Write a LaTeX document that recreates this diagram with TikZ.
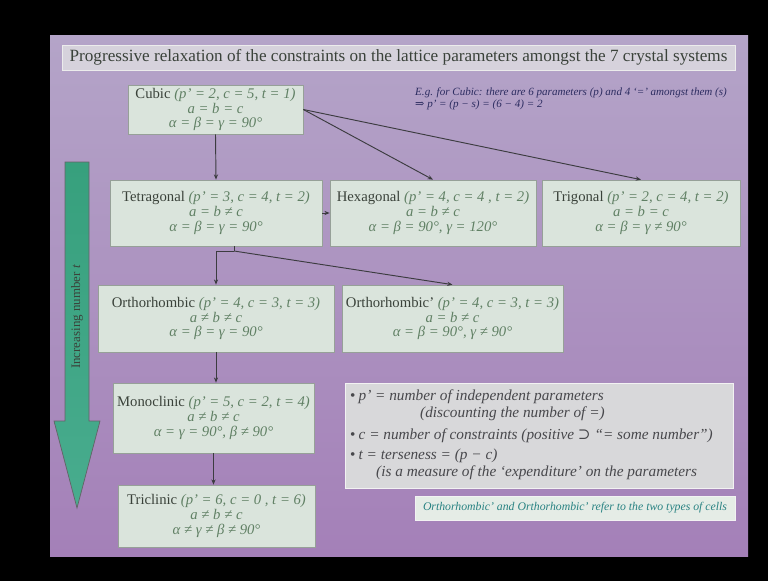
\documentclass[tikz,border=0pt]{standalone}
\usepackage{fontspec}
\setmainfont{Liberation Serif}
\newfontfamily\symfont{DejaVu Serif}
\usetikzlibrary{arrows.meta,calc}

\definecolor{slidetop}{RGB}{180,164,200}
\definecolor{slidebot}{RGB}{164,128,184}
\definecolor{boxfill}{RGB}{218,228,220}
\definecolor{boxline}{RGB}{150,160,152}
\definecolor{titlefill}{RGB}{214,210,220}
\definecolor{nameC}{RGB}{58,66,58}
\definecolor{mathC}{RGB}{96,128,100}
\definecolor{linkC}{RGB}{60,60,64}
\definecolor{legfill}{RGB}{216,216,218}
\definecolor{legtext}{RGB}{72,72,76}
\definecolor{noteC}{RGB}{44,44,96}
\definecolor{cellC}{RGB}{40,130,130}
\definecolor{arrtop}{RGB}{55,160,125}
\definecolor{arrmid}{RGB}{198,216,208}
\definecolor{arrbot}{RGB}{72,172,142}

\newcommand\nm[1]{{\upshape\color{nameC}#1}}
\newcommand\nq{≠}
\newcommand\impl{{\symfont ⊃}}
\newcommand\bul{{\upshape•}\hspace{0.2em}}

\begin{document}
\begin{tikzpicture}[x=0.85pt,y=-0.85pt,
  sz/.style 2 args={minimum width=#1*0.85pt, minimum height=#2*0.85pt},
  sysbox/.style={draw=boxline, fill=boxfill, line width=0.6pt, inner sep=0pt,
    align=center, text=mathC, font=\fontsize{12.5}{12.6}\selectfont\itshape},
  link/.style={draw=linkC, line width=0.8pt, -{Stealth[length=4.5pt,width=3.6pt]}},
  plain/.style={draw=linkC, line width=0.8pt},
  ]
% frame and slide
\fill[black] (0,0) rectangle (768,581);
\useasboundingbox (0,0) rectangle (768,581);
\shade[top color=slidetop, bottom color=slidebot] (50,35) rectangle (748,556);

% heading
\node[draw=white!85!gray, fill=titlefill, line width=0.8pt, inner sep=0pt, sz={673}{25},
  text=nameC, font=\fontsize{14.6}{16}\selectfont] (title) at (398.5,57.5)
  {Progressive relaxation of the constraints on the lattice parameters amongst the 7 crystal systems};

% worked example
\node[anchor=west, inner sep=0pt, text=noteC, font=\fontsize{9.4}{10}\selectfont\itshape] (eg1) at (415,93)
  {E.g. for Cubic: there are 6 parameters (p) and 4 `=' amongst them (s)};
\node[anchor=west, inner sep=0pt, text=noteC, font=\fontsize{9.4}{10}\selectfont\itshape] (eg2) at (415,105)
  {{\symfont ⇒} p' = (p − s) = (6 − 4) = 2};

% crystal systems
\node[sysbox, sz={175}{49}] (cubic) at (215.5,109.5)
  {\nm{Cubic} (p' = 2, c = 5, t = 1)\\ a = b = c\\ α = β = γ = 90°};
\node[sysbox, sz={212}{66}] (tet) at (216,213)
  {\nm{Tetragonal} (p' = 3, c = 4, t = 2)\\ a = b \nq{} c\\ α = β = γ = 90°};
\node[sysbox, sz={206}{66}] (hex) at (433,213)
  {\nm{Hexagonal} (p' = 4, c = 4 , t = 2)\\ a = b \nq{} c\\ α = β = 90°, γ = 120°};
\node[sysbox, sz={198}{66}] (trig) at (641,213)
  {\nm{Trigonal} (p' = 2, c = 4, t = 2)\\ a = b = c\\ α = β = γ \nq{} 90°};
\node[sysbox, sz={236}{67}] (orth) at (216,318.5)
  {\nm{Orthorhombic} (p' = 4, c = 3, t = 3)\\ a \nq{} b \nq{} c\\ α = β = γ = 90°};
\node[sysbox, sz={221}{67}] (orthp) at (452.5,318.5)
  {\nm{Orthorhombic'} (p' = 4, c = 3, t = 3)\\ a = b \nq{} c\\ α = β = 90°, γ \nq{} 90°};
\node[sysbox, sz={201}{70}] (mono) at (213.5,418)
  {\nm{Monoclinic} (p' = 5, c = 2, t = 4)\\ a \nq{} b \nq{} c\\ α = γ = 90°, β \nq{} 90°};
\node[sysbox, sz={197}{62}] (tric) at (216.5,516)
  {\nm{Triclinic} (p' = 6, c = 0 , t = 6)\\ a \nq{} b \nq{} c\\ α \nq{} γ \nq{} β \nq{} 90°};

% connectors
\draw[link] (cubic.south) -- (tet.north);
\draw[link] (cubic.east) -- (hex.north);
\draw[link] (cubic.east) -- (trig.north);
\draw[link] (tet.east) -- (hex.west);
\coordinate (split) at (234,251);
\draw[plain] (split |- tet.south) -- (split);
\draw[link] (split) -| (orth.north);
\draw[link] (split) -- (orthp.north);
\draw[link] (orth.south) -- (orth.south |- mono.north);
\draw[link] (mono.south) -- (mono.south |- tric.north);

% legend
\node[draw=white!90!gray, fill=legfill, line width=0.6pt, inner sep=0pt, sz={388}{105}] (legend) at (539,435.5) {};
\begin{scope}[every node/.style={anchor=west, inner sep=0pt, text=legtext, font=\fontsize{13}{14}\selectfont\itshape}]
\node (leg1) at (350,397) {\bul p' = number of independent parameters};
\node (leg2) at (420,414) {(discounting the number of =)};
\node (leg3) at (350,436) {\bul c = number of constraints (positive \impl{} “= some number”)};
\node (leg4) at (350,456) {\bul t = terseness = (p − c)};
\node (leg5) at (376,473) {(is a measure of the `expenditure' on the parameters};
\end{scope}

% cell note
\node[draw=white!90!gray, fill=boxfill!70!white, line width=0.6pt, inner sep=0pt, sz={320}{24},
  text=cellC, font=\fontsize{10}{12}\selectfont\itshape] (cells) at (575,508)
  {Orthorhombic' and Orthorhombic' refer to the two types of cells};

% direction of increasing terseness
\shadedraw[draw=linkC!80, line width=0.6pt, top color=arrtop, middle color=arrmid, bottom color=arrbot]
  (65,162) -- (89,162) -- (89,421) -- (100,421) -- (77,508) -- (54,421) -- (65,421) -- cycle;
\node[rotate=90, inner sep=0pt, text=nameC, font=\fontsize{11}{12}\selectfont] (trend) at (77,317)
  {Increasing number \textit{t}};
\end{tikzpicture}
\end{document}
